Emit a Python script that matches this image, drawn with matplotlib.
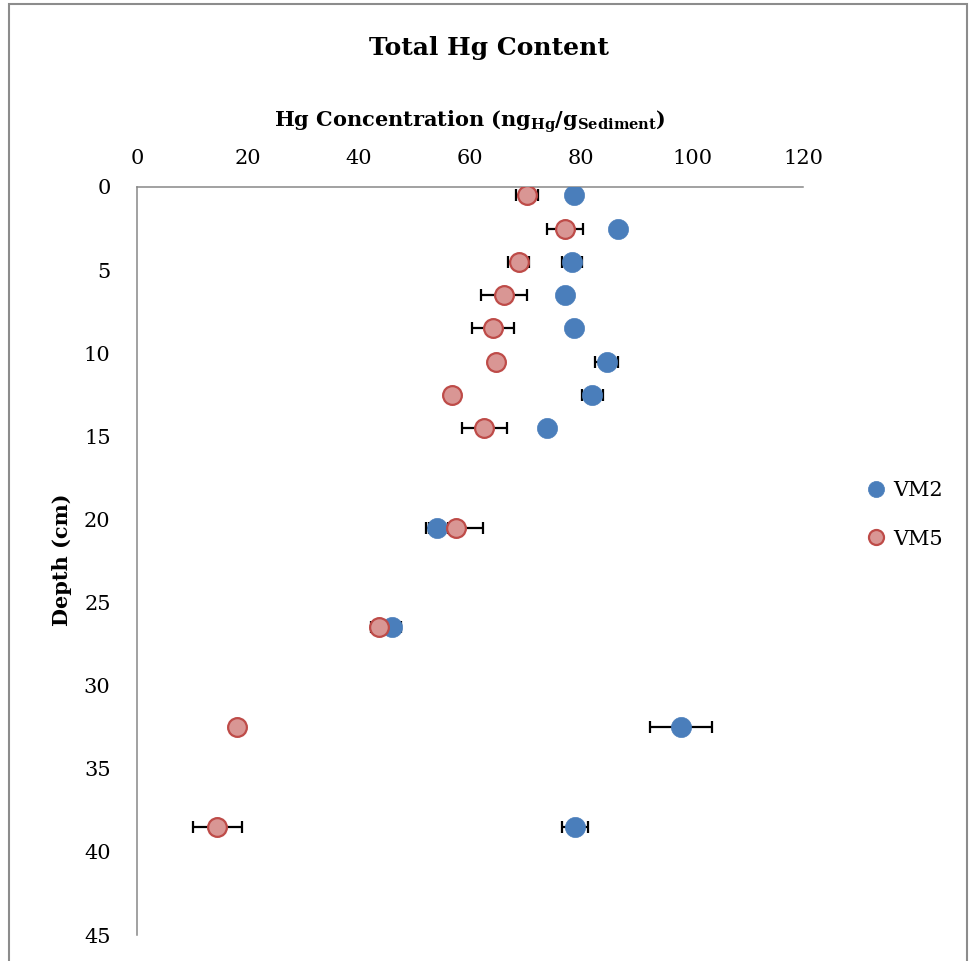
import matplotlib
matplotlib.use("Agg")
import matplotlib.pyplot as plt
from matplotlib.patches import Rectangle

plt.rcParams['font.family'] = ['DejaVu Serif']
plt.rcParams['mathtext.fontset'] = 'dejavuserif'

# Data
depth = [0.5, 2.5, 4.5, 6.5, 8.5, 10.5, 12.5, 14.5, 20.5, 26.5, 32.5, 38.5]
vm2 = [78.7, 86.7, 78.4, 77.2, 78.8, 84.6, 82.0, 73.8, 54.1, 45.9, 98.0, 78.9]
vm2_err = [0.3, 0.3, 1.8, 0.8, 0.3, 2.0, 1.9, 0.3, 2.0, 1.7, 5.6, 2.3]
vm5 = [70.2, 77.1, 68.8, 66.1, 64.2, 64.6, 56.7, 62.6, 57.5, 43.6, 18.0, 14.5]
vm5_err = [2.0, 3.3, 1.9, 4.1, 3.8, 0.4, 0.3, 4.0, 4.8, 1.5, 0.3, 4.4]
xticks = [0, 20, 40, 60, 80, 100, 120]
yticks = [0, 5, 10, 15, 20, 25, 30, 35, 40, 45]

W, H = 972, 961
fig = plt.figure(figsize=(W / 100, H / 100), dpi=100)
ax = fig.add_axes([137 / W, 26 / H, 666 / W, 748 / H])

blue = '#4A7EBB'
red_face = '#D99694'
red_edge = '#BE4B48'

ax.errorbar(vm2, depth, xerr=vm2_err, fmt='none', ecolor='black', elinewidth=1.6,
            capsize=4, capthick=1.6, zorder=1)
ax.errorbar(vm5, depth, xerr=vm5_err, fmt='none', ecolor='black', elinewidth=1.6,
            capsize=4, capthick=1.6, zorder=1)
h2, = ax.plot(vm2, depth, linestyle='none', marker='o', markersize=14.5,
              markerfacecolor=blue, markeredgecolor=blue, markeredgewidth=0.5,
              label='VM2', zorder=3)
h5, = ax.plot(vm5, depth, linestyle='none', marker='o', markersize=13.5,
              markerfacecolor=red_face, markeredgecolor=red_edge, markeredgewidth=1.6,
              label='VM5', zorder=4)

ax.set_xlim(0, 120)
ax.set_ylim(45, 0)
ax.set_xticks(xticks)
ax.set_yticks(yticks)
ax.xaxis.tick_top()
ax.tick_params(axis='x', length=0, pad=14, labelsize=15)
ax.tick_params(axis='y', length=0, pad=19, labelsize=15)
for s in ['right', 'bottom']:
    ax.spines[s].set_visible(False)
for s in ['top', 'left']:
    ax.spines[s].set_color('#878787')
    ax.spines[s].set_linewidth(1.1)

fig.text(489 / W, 1 - 55 / H, 'Total Hg Content', ha='center', va='baseline',
         fontsize=18, fontweight='bold')
fig.text(470 / W, 1 - 127 / H,
         r'Hg Concentration (ng$_{\mathbf{Hg}}$/g$_{\mathbf{Sediment}}$)',
         ha='center', va='baseline', fontsize=15, fontweight='bold')
fig.text(62 / W, 1 - 560 / H, 'Depth (cm)', rotation=90, ha='center', va='center',
         fontsize=15, fontweight='bold')

fig.legend(handles=[h2, h5], loc='center left', bbox_to_anchor=(866 / W, 1 - 515 / H),
           frameon=False, fontsize=15, handlelength=1.0, handletextpad=0.3,
           borderpad=0, borderaxespad=0, labelspacing=1.4, markerscale=0.8)

border = Rectangle((9 / W, -0.05), (967 - 9) / W, 1 - 4 / H + 0.05,
                   transform=fig.transFigure, fill=False, edgecolor='#8c8c8c',
                   linewidth=1.5, clip_on=False)
fig.patches.append(border)

fig.savefig('out.png', dpi=100)
